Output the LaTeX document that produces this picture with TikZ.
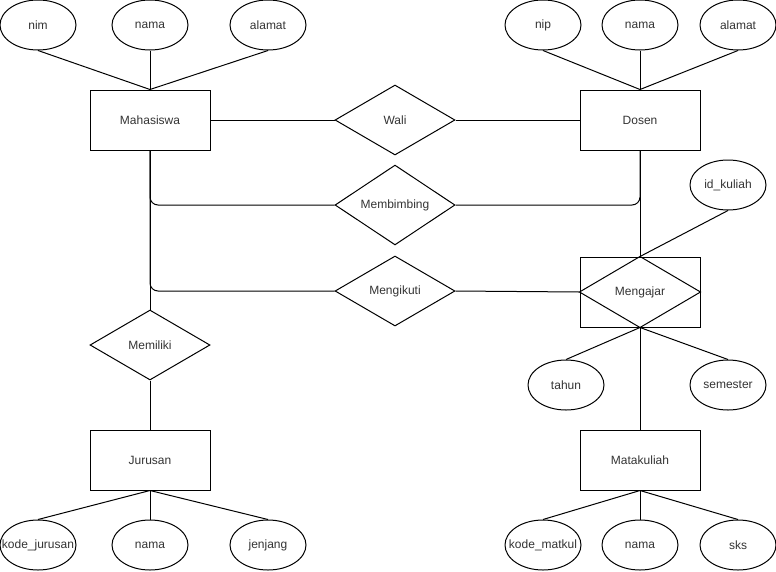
\documentclass[tikz,border=0pt]{standalone}
\usepackage{fontspec}
\setmainfont{Liberation Sans}
\usetikzlibrary{shapes.geometric}
\tikzset{x=1pt, y=-1pt,
  every node/.style={font=\fontsize{12}{14}\selectfont, text=black!80},
  entity/.style={draw, minimum width=120pt, minimum height=60pt, inner sep=0pt},
  relation/.style={draw, diamond, minimum width=120pt, minimum height=70pt, inner sep=0pt},
  attr/.style={draw, ellipse, minimum width=76pt, minimum height=50pt, inner sep=0pt},
  link/.style={line width=1pt, rounded corners=8pt}
}
% attribute text kept to a fixed ellipse size
\def\Attr#1{\makebox[0pt]{#1}}

\begin{document}
\begin{tikzpicture}[line width=1pt]
\useasboundingbox (0,0) rectangle (776,571);
% entities
\node[entity] (Mahasiswa) at (150,120) {Mahasiswa};
\node[entity] (Dosen) at (640,120) {Dosen};
\node[entity] (Jurusan) at (150,460) {Jurusan};
\node[entity] (Matakuliah) at (640,460) {Matakuliah};
% relations
\node[relation] (Wali) at (395,120) {Wali};
\node[relation] (Membimbing) at (395,205) {Membimbing};
\node[relation] (Mengikuti) at (395,291) {Mengikuti};
\node[relation] (Memiliki) at (150,345) {Memiliki};
\node[entity, minimum height=70pt] (Mengajar) at (640,292) {Mengajar};
\draw (Mengajar.north) -- (Mengajar.east) -- (Mengajar.south) -- (Mengajar.west) -- cycle;
% attributes
\node[attr] (nim) at (38,25) {\Attr{nim}};
\node[attr] (namaMhs) at (150,25) {\Attr{nama}};
\node[attr] (alamatMhs) at (268,25) {\Attr{alamat}};
\node[attr] (nip) at (543,25) {\Attr{nip}};
\node[attr] (namaDsn) at (640,25) {\Attr{nama}};
\node[attr] (alamatDsn) at (738,25) {\Attr{alamat}};
\node[attr] (idKuliah) at (728,185) {\Attr{id\_kuliah}};
\node[attr] (tahun) at (566,385) {\Attr{tahun}};
\node[attr] (semester) at (728,385) {\Attr{semester}};
\node[attr] (kodeJurusan) at (38,545) {\Attr{kode\_jurusan}};
\node[attr] (namaJur) at (150,545) {\Attr{nama}};
\node[attr] (jenjang) at (268,545) {\Attr{jenjang}};
\node[attr] (kodeMatkul) at (543,545) {\Attr{kode\_matkul}};
\node[attr] (namaMk) at (640,545) {\Attr{nama}};
\node[attr] (sks) at (738,545) {\Attr{sks}};
% connectors
\foreach \a in {nim,namaMhs,alamatMhs}
  \draw[link] (\a.south) -- (Mahasiswa.north);
\foreach \a in {nip,namaDsn,alamatDsn}
  \draw[link] (\a.south) -- (Dosen.north);
\foreach \a in {kodeJurusan,namaJur,jenjang}
  \draw[link] (Jurusan.south) -- (\a.north);
\foreach \a in {kodeMatkul,namaMk,sks}
  \draw[link] (Matakuliah.south) -- (\a.north);
\draw[link] (Mahasiswa.east) -- (Wali.west);
\draw[link] (Wali.east) -- (Dosen.west);
\draw[link] (Mahasiswa.south) |- (Membimbing.west);
\draw[link] (Membimbing.east) -| (Dosen.south);
\draw[link] (Mahasiswa.south) |- (Mengikuti.west);
\draw[link] (Mengikuti.east) -- (Mengajar.west);
\draw[link] (Mahasiswa.south) -- (Memiliki.north);
\draw[link] (Memiliki.south) -- (Jurusan.north);
\draw[link] (Dosen.south) -- (Mengajar.north);
\draw[link] (idKuliah.south) -- (Mengajar.north);
\draw[link] (Mengajar.south) -- (tahun.north);
\draw[link] (Mengajar.south) -- (semester.north);
\draw[link] (Mengajar.south) -- (Matakuliah.north);
\end{tikzpicture}
\end{document}
